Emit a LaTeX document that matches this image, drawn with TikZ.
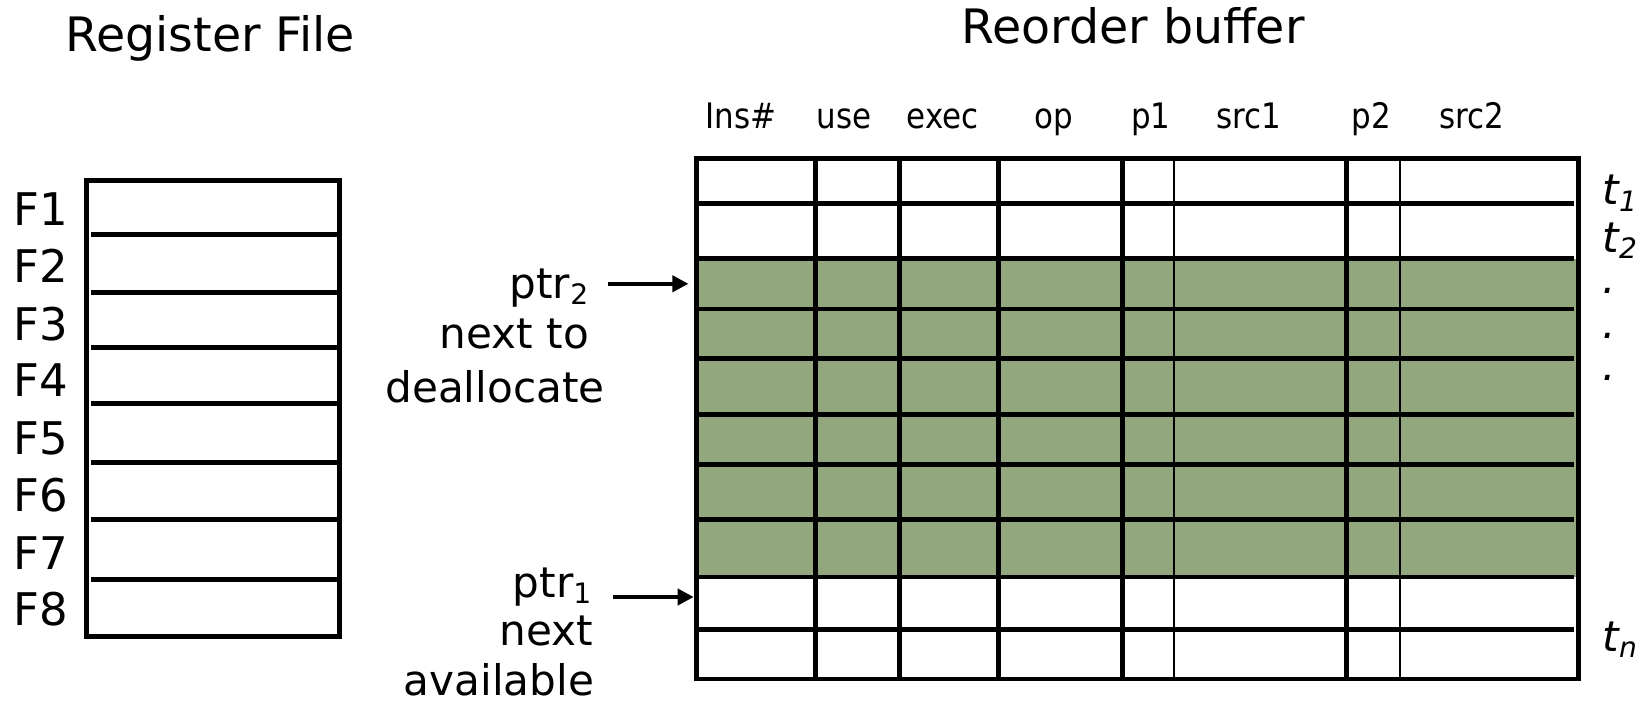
\documentclass[tikz,border=0pt]{standalone}
\usepackage{fontspec}
\setmainfont{DejaVu Sans}
\newfontfamily\condfont[FakeStretch=0.88]{DejaVu Sans}
\usetikzlibrary{arrows.meta}
\definecolor{robgreen}{RGB}{146,167,126}
\tikzset{
  title/.style={font=\fontsize{13.5}{16}\selectfont, inner sep=0pt, anchor=base},
  reglabel/.style={font=\fontsize{12.8}{15}\selectfont, inner sep=0pt, anchor=base west},
  colhead/.style={font=\condfont\fontsize{10}{12}\selectfont, inner sep=0pt, anchor=base},
  ptrlabel/.style={font=\fontsize{12}{14}\selectfont, inner sep=0pt, anchor=base east},
  tlabel/.style={font=\itshape\fontsize{12}{14}\selectfont, inner sep=0pt, anchor=base west},
  thickrule/.style={line width=1.4pt},
  thinrule/.style={line width=0.75pt},
  ptrarrow/.style={line width=1.1pt, -{Triangle[length=4.6pt,width=4.6pt]}}
}
\begin{document}
\begin{tikzpicture}[x=0.01051cm, y=-0.01051cm]
    \useasboundingbox (0,0) rectangle (1568,667);

    % Titles
    \node[title] (regtitle) at (200,49) {Register File};
    \node[title] (robtitle) at (1078,41) {Reorder buffer};

    % Register file
    \draw[thickrule] (82,172) rectangle (323,606);
    \foreach \ypos in {223, 278, 331, 384, 440, 494, 551}
    {
      \draw[thickrule] (87,\ypos) -- (321,\ypos);
    };
    \foreach \reg/\ypos in {1/215, 2/269, 3/324, 4/377, 5/432, 6/487, 7/542, 8/595}
    {
      \node[reglabel] (F\reg) at (12,\ypos) {F\reg};
    };

    % Reorder buffer
    \fill[robgreen] (665,246) rectangle (1500,549);
    \foreach \ypos in {194, 246, 294, 341, 394, 442, 494, 549, 599}
    {
      \draw[thickrule] (665,\ypos) -- (1498,\ypos);
    };
    \foreach \xpos in {776, 856, 950, 1068, 1281}
    {
      \draw[thickrule] (\xpos,151) -- (\xpos,646);
    };
    \foreach \xpos in {1117, 1332}
    {
      \draw[thinrule] (\xpos,151) -- (\xpos,646);
    };
    \draw[thickrule] (663,151) rectangle (1502,646);

    % Column heads
    \foreach \col/\xpos/\head in {ins/705/{Ins\#}, use/803/use, exec/897/exec, op/1003/op, pone/1095/p1, srcone/1188/src1, ptwo/1305/p2, srctwo/1400/src2}
    {
      \node[colhead] (hd\col) at (\xpos,122) {\head};
    };

    % Entry tags
    \node[tlabel] (tone) at (1524,195) {t\textsubscript{1}};
    \node[tlabel] (ttwo) at (1524,240) {t\textsubscript{2}};
    \foreach \k/\ypos in {1/279, 2/322, 3/362}
    {
      \node[tlabel] (dot\k) at (1524,\ypos) {.};
    };
    \node[tlabel] (tn) at (1524,620) {t\textsubscript{n}};

    % Pointers
    \node[ptrlabel, inner xsep=4.8pt] (ptrtwo) at (578,284) {ptr\textsubscript{2}};
    \node[ptrlabel] (ptrtwonext) at (561,332) {next to};
    \node[ptrlabel] (ptrtwodealloc) at (576,383) {deallocate};
    \coordinate (tiptwo) at (655,270);
    \draw[ptrarrow] (ptrtwo.east |- tiptwo) -- (tiptwo);

    \node[ptrlabel, inner xsep=5.4pt] (ptrone) at (583,568) {ptr\textsubscript{1}};
    \node[ptrlabel] (ptronenext) at (565,614) {next};
    \node[ptrlabel] (ptroneavail) at (566,662) {available};
    \coordinate (tipone) at (660,568);
    \draw[ptrarrow] (ptrone.east |- tipone) -- (tipone);

\end{tikzpicture}
\end{document}
